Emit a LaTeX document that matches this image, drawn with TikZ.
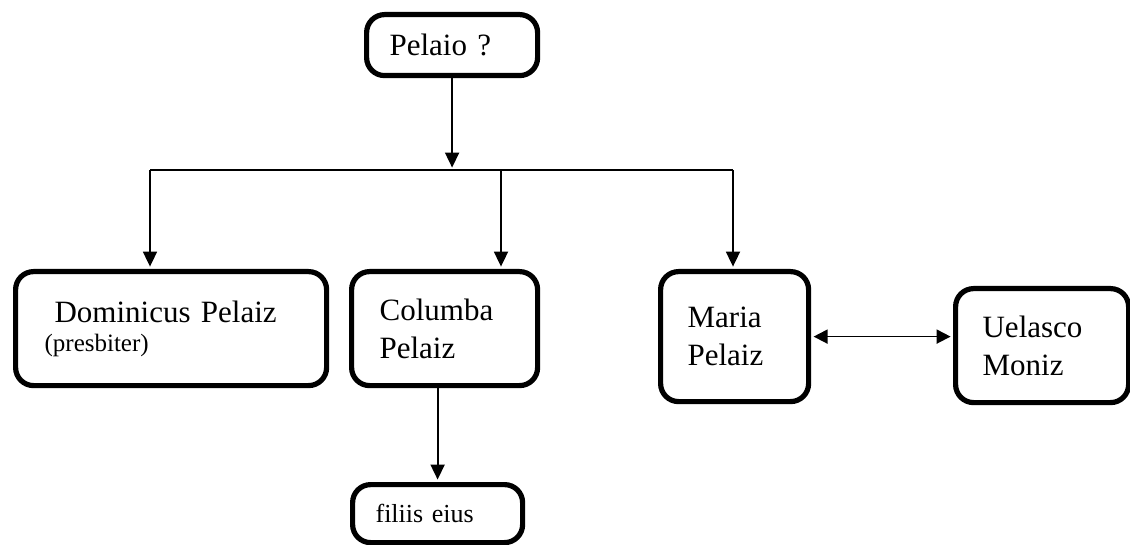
\documentclass[tikz,border=0pt]{standalone}
\usepackage{fontspec}
\setmainfont{Liberation Serif}
\usetikzlibrary{arrows.meta, calc}

\tikzset{
  person/.style={draw, line width=2.6pt, rounded corners=9pt, align=left,
    inner ysep=0pt, anchor=north west, font=\fontsize{15.5}{19}\selectfont},
  arr/.style={-{Triangle[length=7.5pt,width=7pt]}, line width=0.9pt, shorten >=1.2pt},
}

\begin{document}
\begin{tikzpicture}[x=0.5pt, y=-0.5pt]
  \useasboundingbox (0,0) rectangle (1130,545);
  % boxes
  \node[person, minimum height=30.5pt, inner xsep=11.5pt, text width=62.5pt] (pelaio) at (364,12) {Pelaio ?};
  \node[person, minimum height=57pt, inner xsep=14.5pt, text width=126.5pt] (dominicus) at (13,269)
    {\hspace*{5pt}Dominicus Pelaiz\\[-4.5pt]{\fontsize{12.5}{15}\selectfont (presbiter)}};
  \node[person, minimum height=57pt, inner xsep=14pt, text width=65pt] (columba) at (349,269) {Columba\\Pelaiz};
  \node[person, minimum height=65pt, inner xsep=13.5pt, text width=47pt] (maria) at (658,269) {Maria\\Pelaiz};
  \node[person, minimum height=57pt, inner xsep=13.5pt, text width=59.5pt] (uelasco) at (953,286) {Uelasco\\Moniz};
  \node[person, minimum height=29pt, inner xsep=11.5pt, text width=62pt,
    font=\fontsize{13}{16}\selectfont] (filiis) at (350,482) {filiis eius};
  % bar
  \coordinate (barL) at (150,170);
  \coordinate (barM) at (501,170);
  \coordinate (barR) at (733,170);
  \draw[line width=0.8pt] (barL) -- (barR);
  \draw[arr] (pelaio.south) -- (pelaio.south |- barL);
  \draw[arr] (barL) -- (barL |- dominicus.north);
  \draw[arr] (barM) -- (barM |- columba.north);
  \draw[arr] (barR) -- (barR |- maria.north);
  % children
  \draw[arr] (filiis.north |- columba.south) -- (filiis.north);
  \draw[arr, shorten <=1.2pt, {Triangle[length=7pt,width=7pt]}-{Triangle[length=7pt,width=7pt]}]
    (maria.east) -- (maria.east -| uelasco.west);
\end{tikzpicture}
\end{document}
